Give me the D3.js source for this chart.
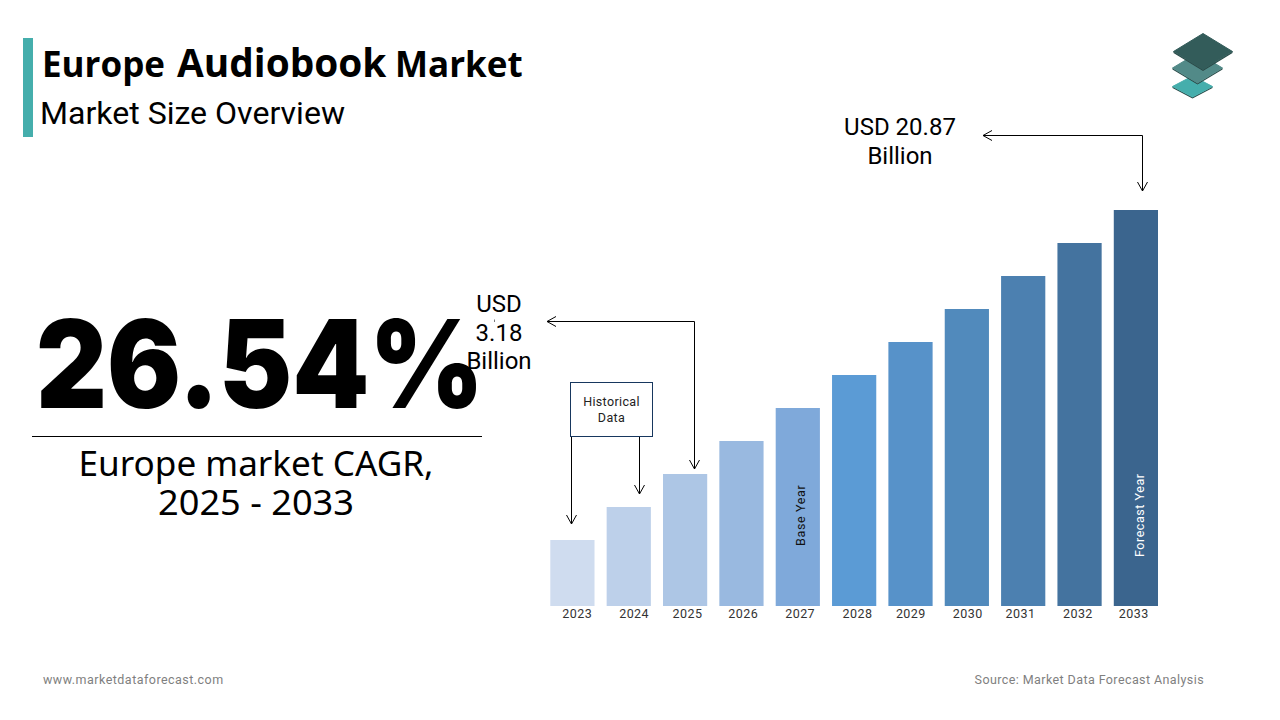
<!DOCTYPE html>
<html><head><meta charset="utf-8">
<script src="https://cdn.jsdelivr.net/npm/d3@7/dist/d3.min.js"></script>
<style>html,body{margin:0;padding:0;background:#fff}svg{display:block}</style>
</head><body><svg id="c" width="1280" height="720"></svg>
<script>
const years = ["2023","2024","2025","2026","2027","2028","2029","2030","2031","2032","2033"];
const barHeights = [2,3,4,5,6,7,8,9,10,11,12];
const barColors = ["#cfdcef","#bdd0ea","#adc6e5","#99b9e0","#7fa9da","#5b9bd5","#5792c9","#518abc","#4c80b0","#44739f","#3b658e"];

const svg = d3.select("#c");
const x = d3.scaleBand().domain(years).range([550,1158]).paddingInner(0.21).paddingOuter(0);
const y = d3.scaleLinear().domain([0,12]).range([606,210]);
const tickNudge = [5,5.5,2.5,2,2.5,3.5,0.5,1,-2.5,-1.5,-2];

svg.append("g").selectAll("rect").data(years).join("rect")
  .attr("x",d=>x(d)+0.3).attr("width",x.bandwidth()-0.3)
  .attr("y",(d,i)=>y(barHeights[i])).attr("height",(d,i)=>y(0)-y(barHeights[i]))
  .attr("fill",(d,i)=>barColors[i]);

const ax = svg.append("g").attr("transform","translate(0,606)").call(d3.axisBottom(x).tickSize(0).tickPadding(3));
ax.select(".domain").remove();
ax.selectAll("text").attr("font-family","Roboto").attr("font-size",12.5).attr("letter-spacing",0.45).attr("fill","#333")
  .attr("dx",(d,i)=>tickNudge[i]);

function T(s,px,py,size,opt={}){
  const t=svg.append("text").attr("x",px).attr("y",py).attr("font-size",size)
    .attr("font-family",opt.f||"Roboto").attr("fill",opt.c||"#000")
    .attr("text-anchor",opt.a||"middle").attr("font-weight",opt.w||400).text(s);
  if(opt.ls)t.attr("letter-spacing",opt.ls);
  if(opt.len)t.attr("textLength",opt.len).attr("lengthAdjust","spacingAndGlyphs");
  if(opt.r)t.attr("transform",`rotate(-90 ${px} ${py})`);
  return t;
}
// header
svg.append("rect").attr("x",23).attr("y",38).attr("width",10).attr("height",99).attr("fill","#45aeac");
const title=svg.append("text").attr("x",42).attr("y",77).attr("font-family","'Open Sans'").attr("font-weight",700).attr("font-size",35).attr("fill","#000");
title.append("tspan").attr("textLength",123).text("Europe");
title.append("tspan").attr("x",177).attr("font-size",38.8).text("Audiobook");
title.append("tspan").attr("x",395).text("Market");
T("Market Size Overview",40,124,31,{a:"start",len:305});

// CAGR
T("26.54%",36,408,122,{f:"Inter",w:900,a:"start",len:448});
svg.append("line").attr("x1",32).attr("x2",482).attr("y1",436.5).attr("y2",436.5).attr("stroke","#000").attr("stroke-width",1);
T("Europe market CAGR,",256,476,34,{f:"'Noto Sans'",len:355});
T("2025 - 2033",256,515,34,{f:"'Noto Sans'",len:196});

// callouts
T("USD 20.87",900,135,24);
T("Billion",900,164,24);
T("USD",499,312,24);
T("3.18",499,341,24);
T("Billion",499,369,24);

function path(points){
  svg.append("path").attr("d",d3.line()(points)).attr("fill","none").attr("stroke","#000").attr("stroke-width",1);
}
function headDown(px,py){path([[px-5,py-9],[px,py],[px+5,py-9]]);}
function headLeft(px,py){path([[px+9,py-5],[px,py],[px+9,py+5]]);}

path([[983,135.5],[1142.5,135.5],[1142.5,191]]);headLeft(983,135.5);headDown(1142.5,191);
path([[547,321.5],[694.5,321.5],[694.5,469]]);headLeft(547,321.5);headDown(694.5,469);
path([[571.5,437],[571.5,524]]);headDown(571.5,524);
path([[639.5,437],[639.5,494]]);headDown(639.5,494);
svg.append("path").attr("d","M494.5,319.5V322").attr("stroke","#555").attr("stroke-width",0.8);

svg.append("rect").attr("x",570.5).attr("y",382.5).attr("width",82).attr("height",54).attr("fill","#fff").attr("stroke","#17375e").attr("stroke-width",1);
T("Historical",611.5,406,12.5,{ls:0.35,c:"#222"});
T("Data",611.5,422,12.5,{ls:0.35,c:"#222"});

T("Base Year",805,546,12.5,{r:1,a:"start",ls:0.65,c:"#111"});
T("Forecast Year",1144,557,12.5,{r:1,a:"start",ls:0.55,c:"#fff"});

// logo
function diamond(cx,cy,hw,hh,fill){
  svg.append("path").attr("d",`M${cx-hw},${cy}L${cx},${cy+hh}L${cx+hw},${cy}L${cx+hw},${cy+1.5}L${cx},${cy+hh+1.5}L${cx-hw},${cy+1.5}Z`).attr("fill","#2b4a48");
  svg.append("path").attr("d",`M${cx},${cy-hh}L${cx+hw},${cy}L${cx},${cy+hh}L${cx-hw},${cy}Z`).attr("fill",fill).attr("stroke",fill).attr("stroke-width",1).attr("stroke-linejoin","round");
}
diamond(1192.5,86.5,20,10.5,"#45aeac");
diamond(1197.5,68,25,15,"#528a88");
diamond(1203,51.5,29.5,18,"#335c5a");

// footer
T("www.marketdataforecast.com",43,684,12.5,{a:"start",c:"#7f7f7f",ls:0.47});
T("Source: Market Data Forecast Analysis",1204,684,12.5,{a:"end",c:"#7f7f7f",ls:0.41});
</script></body></html>
